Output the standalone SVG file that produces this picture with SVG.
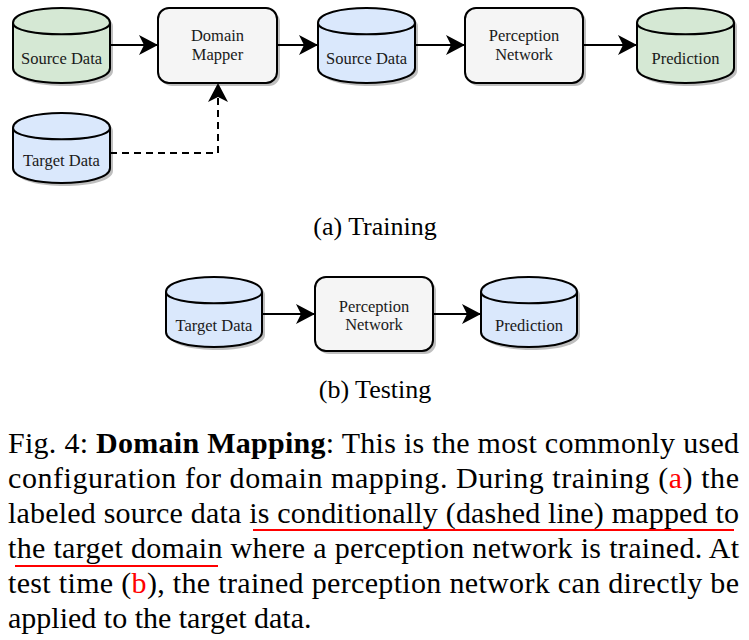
<svg xmlns="http://www.w3.org/2000/svg" width="749" height="640" viewBox="0 0 749 640">
  <style>
    .node { stroke: #000; stroke-width: 2; }
    .shadow { fill: #000; opacity: 0.25; stroke: none; }
    .green { fill: #d5e8d4; }
    .blue { fill: #dae8fc; }
    .gray { fill: #f5f5f5; }
    .lbl { font-family: "Liberation Serif", "Times New Roman", serif; font-size: 16.5px; fill: #1a1a1a; text-anchor: middle; }
    .cap { font-family: "Liberation Serif", "Times New Roman", serif; font-size: 26px; fill: #000; text-anchor: middle; }
    .para { font-family: "Liberation Serif", "Times New Roman", serif; font-size: 30px; fill: #000; }
    .edge { fill: none; stroke: #000; stroke-width: 2; }
    .dash { stroke-dasharray: 7 5; }
    .red { fill: #ff0000; }
    .ul { stroke: #ff0000; stroke-width: 2; fill: none; }
  </style>
  <defs>
    <marker id="arr" markerUnits="userSpaceOnUse" markerWidth="20" markerHeight="20" viewBox="0 0 19 20" refX="18" refY="10" orient="auto">
      <path d="M0,0 L19,10 L0,20 L5,10 Z" fill="#000"/>
    </marker>
  </defs>

  <!-- Training -->
  <g id="src-green">
    <path class="shadow" transform="translate(16,11)" d="M0,15 C0,-5 97,-5 97,15 L97,60 C97,80 0,80 0,60 Z"/>
    <path class="node green" transform="translate(13,8)" d="M0,15 C0,-5 97,-5 97,15 L97,60 C97,80 0,80 0,60 Z"/>
    <path class="node" fill="none" transform="translate(13,8)" d="M0,15 C0,30 97,30 97,15"/>
    <text class="lbl" x="61.5" y="64">Source Data</text>
  </g>
  <g id="mapper">
    <rect class="shadow" x="161" y="11" width="119" height="75" rx="11"/>
    <rect class="node gray" x="158" y="8" width="119" height="75" rx="11"/>
    <text class="lbl" x="217.5" y="41">Domain</text>
    <text class="lbl" x="217.5" y="60">Mapper</text>
  </g>
  <g id="src-blue">
    <path class="shadow" transform="translate(321,11)" d="M0,15 C0,-5 97,-5 97,15 L97,60 C97,80 0,80 0,60 Z"/>
    <path class="node blue" transform="translate(318,8)" d="M0,15 C0,-5 97,-5 97,15 L97,60 C97,80 0,80 0,60 Z"/>
    <path class="node" fill="none" transform="translate(318,8)" d="M0,15 C0,30 97,30 97,15"/>
    <text class="lbl" x="366.5" y="64">Source Data</text>
  </g>
  <g id="percep-train">
    <rect class="shadow" x="468" y="11" width="118" height="75" rx="11"/>
    <rect class="node gray" x="465" y="8" width="118" height="75" rx="11"/>
    <text class="lbl" x="524" y="41">Perception</text>
    <text class="lbl" x="524" y="60">Network</text>
  </g>
  <g id="pred-train">
    <path class="shadow" transform="translate(640,11)" d="M0,15 C0,-5 97,-5 97,15 L97,60 C97,80 0,80 0,60 Z"/>
    <path class="node green" transform="translate(637,8)" d="M0,15 C0,-5 97,-5 97,15 L97,60 C97,80 0,80 0,60 Z"/>
    <path class="node" fill="none" transform="translate(637,8)" d="M0,15 C0,30 97,30 97,15"/>
    <text class="lbl" x="685.5" y="64">Prediction</text>
  </g>
  <g id="tgt-train">
    <path class="shadow" transform="translate(16,116)" d="M0,15 C0,-5 97,-5 97,15 L97,55 C97,75 0,75 0,55 Z"/>
    <path class="node blue" transform="translate(13,113)" d="M0,15 C0,-5 97,-5 97,15 L97,55 C97,75 0,75 0,55 Z"/>
    <path class="node" fill="none" transform="translate(13,113)" d="M0,15 C0,30 97,30 97,15"/>
    <text class="lbl" x="61.5" y="166">Target Data</text>
  </g>

  <!-- Testing -->
  <g id="tgt-test">
    <path class="shadow" transform="translate(169,280)" d="M0,15 C0,-5 96,-5 96,15 L96,55 C96,75 0,75 0,55 Z"/>
    <path class="node blue" transform="translate(166,277)" d="M0,15 C0,-5 96,-5 96,15 L96,55 C96,75 0,75 0,55 Z"/>
    <path class="node" fill="none" transform="translate(166,277)" d="M0,15 C0,30 96,30 96,15"/>
    <text class="lbl" x="214" y="331">Target Data</text>
  </g>
  <g id="percep-test">
    <rect class="shadow" x="318" y="280" width="118" height="74" rx="11"/>
    <rect class="node gray" x="315" y="277" width="118" height="74" rx="11"/>
    <text class="lbl" x="374" y="312">Perception</text>
    <text class="lbl" x="374" y="330">Network</text>
  </g>
  <g id="pred-test">
    <path class="shadow" transform="translate(484,280)" d="M0,15 C0,-5 96,-5 96,15 L96,55 C96,75 0,75 0,55 Z"/>
    <path class="node blue" transform="translate(481,277)" d="M0,15 C0,-5 96,-5 96,15 L96,55 C96,75 0,75 0,55 Z"/>
    <path class="node" fill="none" transform="translate(481,277)" d="M0,15 C0,30 96,30 96,15"/>
    <text class="lbl" x="529" y="331">Prediction</text>
  </g>

  <g id="connectors">
    <path class="edge" d="M110,45 L157,45" marker-end="url(#arr)"/>
    <path class="edge" d="M277,45 L317,45" marker-end="url(#arr)"/>
    <path class="edge" d="M415,45 L464,45" marker-end="url(#arr)"/>
    <path class="edge" d="M583,45 L636,45" marker-end="url(#arr)"/>
    <path class="edge dash" d="M110,153 L218,153 L218,84" marker-end="url(#arr)"/>
    <path class="edge" d="M262,314 L314,314" marker-end="url(#arr)"/>
    <path class="edge" d="M433,314 L480,314" marker-end="url(#arr)"/>
  </g>

  <text class="cap" x="375" y="235">(a) Training</text>
  <text class="cap" x="375" y="398">(b) Testing</text>

  <g id="caption">
    <text class="para" x="8" y="453" textLength="731" lengthAdjust="spacing">Fig. 4: <tspan font-weight="bold">Domain Mapping</tspan>: This is the most commonly used</text>
    <text class="para" x="8" y="488" textLength="731" lengthAdjust="spacing">configuration for domain mapping. During training (<tspan class="red">a</tspan>) the</text>
    <text class="para" x="8" y="523" textLength="731" lengthAdjust="spacing">labeled source data is conditionally (dashed line) mapped to</text>
    <text class="para" x="8" y="558" textLength="731" lengthAdjust="spacing">the target domain where a perception network is trained. At</text>
    <text class="para" x="8" y="593" textLength="731" lengthAdjust="spacing">test time (<tspan class="red">b</tspan>), the trained perception network can directly be</text>
    <text class="para" x="8" y="628">applied to the target data.</text>
    <path class="ul" d="M253,530 L734,530"/>
    <path class="ul" d="M15,566 L218,566"/>
  </g>
</svg>
